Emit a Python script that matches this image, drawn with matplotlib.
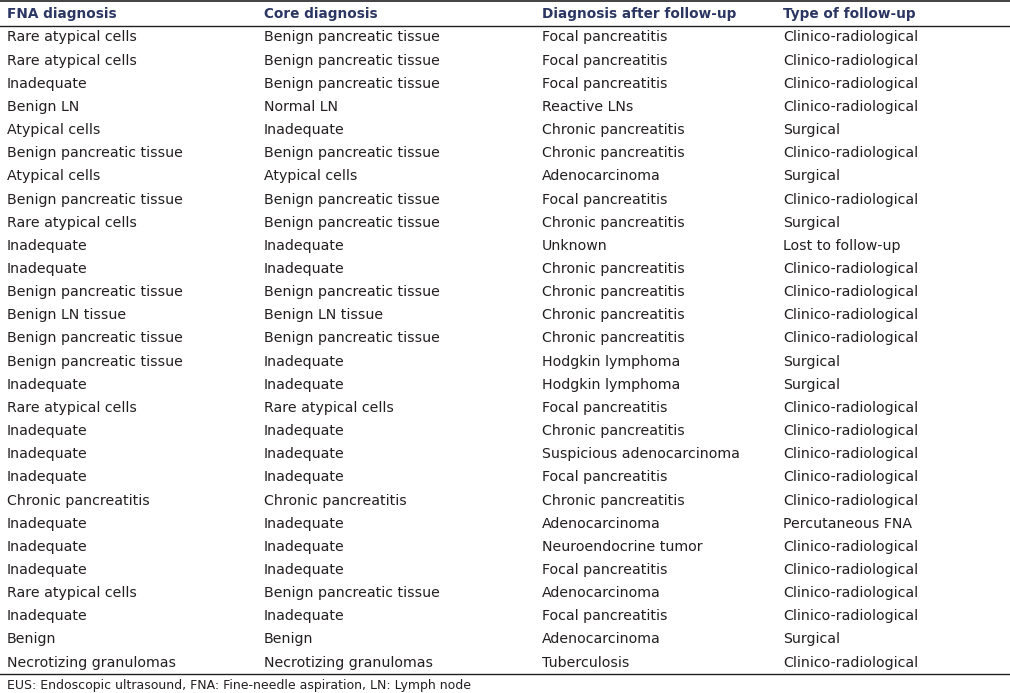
import matplotlib
matplotlib.use('Agg')
import matplotlib.pyplot as plt
from matplotlib.lines import Line2D

# Table content
headers = ["FNA diagnosis", "Core diagnosis", "Diagnosis after follow-up", "Type of follow-up"]

fna_diag = [
    "Rare atypical cells", "Rare atypical cells", "Inadequate", "Benign LN", "Atypical cells",
    "Benign pancreatic tissue", "Atypical cells", "Benign pancreatic tissue", "Rare atypical cells",
    "Inadequate", "Inadequate", "Benign pancreatic tissue", "Benign LN tissue",
    "Benign pancreatic tissue", "Benign pancreatic tissue", "Inadequate", "Rare atypical cells",
    "Inadequate", "Inadequate", "Inadequate", "Chronic pancreatitis", "Inadequate", "Inadequate",
    "Inadequate", "Rare atypical cells", "Inadequate", "Benign", "Necrotizing granulomas",
]
core_diag = [
    "Benign pancreatic tissue", "Benign pancreatic tissue", "Benign pancreatic tissue", "Normal LN",
    "Inadequate", "Benign pancreatic tissue", "Atypical cells", "Benign pancreatic tissue",
    "Benign pancreatic tissue", "Inadequate", "Inadequate", "Benign pancreatic tissue",
    "Benign LN tissue", "Benign pancreatic tissue", "Inadequate", "Inadequate", "Rare atypical cells",
    "Inadequate", "Inadequate", "Inadequate", "Chronic pancreatitis", "Inadequate", "Inadequate",
    "Inadequate", "Benign pancreatic tissue", "Inadequate", "Benign", "Necrotizing granulomas",
]
followup_diag = [
    "Focal pancreatitis", "Focal pancreatitis", "Focal pancreatitis", "Reactive LNs",
    "Chronic pancreatitis", "Chronic pancreatitis", "Adenocarcinoma", "Focal pancreatitis",
    "Chronic pancreatitis", "Unknown", "Chronic pancreatitis", "Chronic pancreatitis",
    "Chronic pancreatitis", "Chronic pancreatitis", "Hodgkin lymphoma", "Hodgkin lymphoma",
    "Focal pancreatitis", "Chronic pancreatitis", "Suspicious adenocarcinoma", "Focal pancreatitis",
    "Chronic pancreatitis", "Adenocarcinoma", "Neuroendocrine tumor", "Focal pancreatitis",
    "Adenocarcinoma", "Focal pancreatitis", "Adenocarcinoma", "Tuberculosis",
]
followup_type = [
    "Clinico-radiological", "Clinico-radiological", "Clinico-radiological", "Clinico-radiological",
    "Surgical", "Clinico-radiological", "Surgical", "Clinico-radiological", "Surgical",
    "Lost to follow-up", "Clinico-radiological", "Clinico-radiological", "Clinico-radiological",
    "Clinico-radiological", "Surgical", "Surgical", "Clinico-radiological", "Clinico-radiological",
    "Clinico-radiological", "Clinico-radiological", "Clinico-radiological", "Percutaneous FNA",
    "Clinico-radiological", "Clinico-radiological", "Clinico-radiological", "Clinico-radiological",
    "Surgical", "Clinico-radiological",
]
footnote = "EUS: Endoscopic ultrasound, FNA: Fine-needle aspiration, LN: Lymph node"

W, H = 1010, 693
fig = plt.figure(figsize=(W / 100, H / 100), dpi=100)
fig.patch.set_facecolor('white')

def fx(x):
    return x / W

def fy(y):
    return 1 - y / H

col_x = [7, 264, 542, 783]
header_y = 14
row0_y = 37.5
row_step = 23.15
fsize = 10.15
header_color = '#2b3663'
text_color = '#231f20'

for x, h in zip(col_x, headers):
    fig.text(fx(x), fy(header_y), h, fontsize=9.8, fontweight='bold', color=header_color,
             ha='left', va='center')

columns = [fna_diag, core_diag, followup_diag, followup_type]
for x, col in zip(col_x, columns):
    for i, val in enumerate(col):
        fig.text(fx(x), fy(row0_y + i * row_step), val, fontsize=fsize, color=text_color,
                 ha='left', va='center')

# Horizontal rules
for y, lw in [(0.5, 1.2), (26, 1.0), (673.5, 1.0)]:
    fig.add_artist(Line2D([0, 1], [fy(y), fy(y)], color='#222222', linewidth=lw,
                          transform=fig.transFigure))

fig.text(fx(7), fy(685), footnote, fontsize=9.0, color=text_color, ha='left', va='center')

plt.savefig('out.png', dpi=100)
plt.close()
